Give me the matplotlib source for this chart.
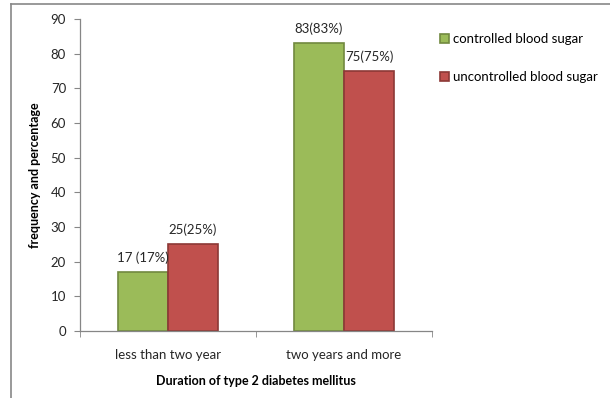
import matplotlib
matplotlib.use("Agg")
import matplotlib.pyplot as plt
from matplotlib.lines import Line2D
import numpy as np

categories = ["less than two year", "two years and more"]
controlled = [17, 83]
uncontrolled = [25, 75]
controlled_labels = ["17 (17%)", "83(83%)"]
uncontrolled_labels = ["25(25%)", "75(75%)"]
series_names = ["controlled blood sugar", "uncontrolled blood sugar"]
yticks = [0, 10, 20, 30, 40, 50, 60, 70, 80, 90]

plt.rcParams['font.family'] = ['Lato', 'DejaVu Sans']

fig = plt.figure(figsize=(6.10, 3.98), dpi=100)
ax = fig.add_axes([80/610, 1-331/398, 352/610, 312/398])

x = np.arange(len(categories))
w = 0.284
g = ax.bar(x - w/2, controlled, w, color="#9BBB59", edgecolor="#71893F", linewidth=1.2,
           label=series_names[0])
r = ax.bar(x + w/2, uncontrolled, w, color="#C0504D", edgecolor="#8C3836", linewidth=1.2,
           label=series_names[1])

for xi, v, t in zip(x - w/2, controlled, controlled_labels):
    ax.text(xi, v + 2.3, t, ha="center", va="bottom", fontsize=9.5, color="#262626")
for xi, v, t in zip(x + w/2, uncontrolled, uncontrolled_labels):
    ax.text(xi, v + 2.3, t, ha="center", va="bottom", fontsize=9.5, color="#262626")

ax.set_xlim(-0.5, 1.5)
ax.set_ylim(0, 90)
ax.set_yticks(yticks)
ax.set_xticks(x)
ax.set_xticklabels(categories)
ax.set_xticks([-0.5, 0.5, 1.5], minor=True)
ax.tick_params(axis="x", which="major", length=0, pad=13, labelsize=9.5, labelcolor="#262626")
ax.tick_params(axis="x", which="minor", length=4, color="#868686", direction="out")
ax.tick_params(axis="y", length=4, color="#868686", labelsize=9.5, labelcolor="#262626", pad=6)
for s in ["top", "right"]:
    ax.spines[s].set_visible(False)
for s in ["left", "bottom"]:
    ax.spines[s].set_color("#868686")
    ax.spines[s].set_linewidth(0.9)

ax.set_ylabel("frequency and percentage", fontsize=9, fontweight="bold", labelpad=7)
ax.set_xlabel("Duration of type 2 diabetes mellitus", fontsize=9, fontweight="bold", labelpad=10)

fig.legend(handles=[g, r], labels=series_names, loc="upper left",
           bbox_to_anchor=(428/610, 1-21/398), frameon=False, fontsize=9.5,
           handlelength=0.7, handleheight=0.7, handletextpad=0.3, labelspacing=2.0)

fig.add_artist(Line2D([11/610, 11/610], [0, 1-4/398], color="#888888", lw=1.2,
                      transform=fig.transFigure))
fig.add_artist(Line2D([11/610, 1], [1-4/398, 1-4/398], color="#888888", lw=1.2,
                      transform=fig.transFigure))

fig.savefig("out.png", dpi=100)
